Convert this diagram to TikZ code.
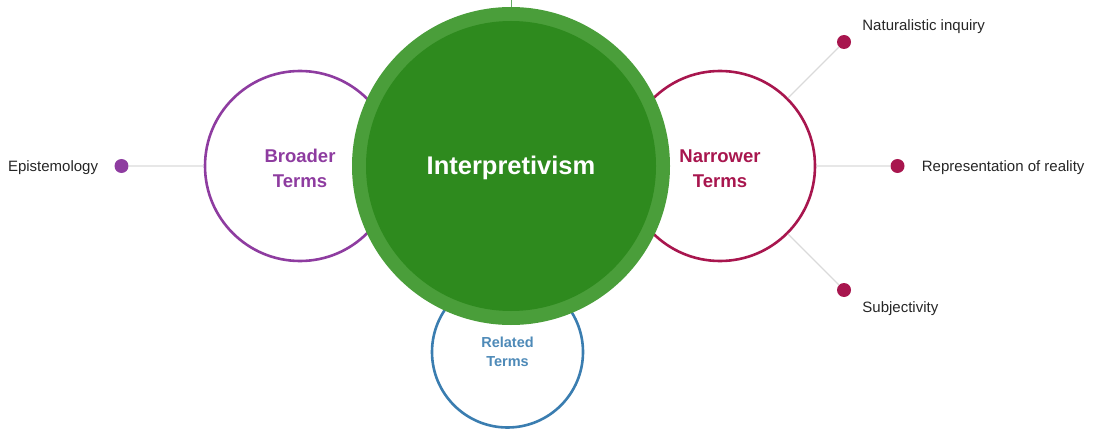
\documentclass[tikz,border=0pt]{standalone}
\usepackage{fontspec}
\setmainfont{Liberation Sans}
\usetikzlibrary{positioning}
\definecolor{ringgreen}{HTML}{4A9E3A}
\definecolor{coregreen}{HTML}{2E8A1E}
\definecolor{broadpurple}{HTML}{8E3CA0}
\definecolor{narrowred}{HTML}{A8164E}
\definecolor{relblue}{HTML}{3A7DB0}
\definecolor{linkgrey}{HTML}{DADADA}
\tikzset{
	%Define style for the term circles
	term/.style={
		circle,
		draw, line width=2.6pt,
		fill=white,
		minimum size=190pt,
		inner sep=0pt,
		align=center,
		font=\bfseries\fontsize{18.5}{25}\selectfont},
	%Define style for the small dots
	dot/.style={
		circle,
		minimum size=14pt,
		inner sep=0pt},
	%Define style for the leaf labels
	leaf/.style={
		text=black!85,
		inner sep=0pt,
		font=\fontsize{15}{18}\selectfont},
	% Define line style
	link/.style={
		draw=linkgrey,
		line width=1.3pt}
}

\begin{document}
\begin{tikzpicture}[x=1pt, y=-1pt]
	
	\pgfdeclarelayer{bg}    % declare background layer
	\pgfsetlayers{bg,main}  % set the order of the layers
	
	\useasboundingbox (0,0) rectangle (1095,433);
	
	\node[circle, fill=ringgreen, minimum size=318pt, inner sep=0pt] (central) at (511,166) {};
	\node[circle, fill=coregreen, minimum size=290pt, inner sep=0pt, text=white, font=\bfseries\fontsize{25.5}{30}\selectfont] (core) at (central) {\raisebox{-9pt}[0pt][0pt]{Interpretivism}};
	\coordinate (topend) at (511,0);
	\draw[draw=black!55!green!60, line width=1pt] (central) -- (topend);
	
	\begin{pgfonlayer}{bg}    % term circles go behind the central one
		\node[term, draw=broadpurple, text=broadpurple] (broader) at (300,166) {\raisebox{-7pt}[0pt][0pt]{\parbox{90pt}{\centering Broader\\Terms}}};
		\node[term, draw=narrowred, text=narrowred] (narrower) at (720,166) {\raisebox{-7pt}[0pt][0pt]{\parbox{90pt}{\centering Narrower\\Terms}}};
		\node[term, draw=relblue, text=relblue!90!white, minimum size=151pt, font=\bfseries\fontsize{14.5}{19}\selectfont] (related) at (507.5,352) {\parbox{60pt}{\centering Related\\Terms}};
	\end{pgfonlayer}
	
	% dots
	\node[dot, fill=broadpurple, left=75pt of broader] (episdot) {};
	\node[dot, fill=narrowred] (natdot) at (844,42) {};
	\node[dot, fill=narrowred, right=74pt of narrower] (repdot) {};
	\node[dot, fill=narrowred] (subjdot) at (844,290) {};
	
	% labels
	\node[leaf, left=16pt of episdot, yshift=-2pt] (epis) {Epistemology};
	\node[leaf, right=11pt of natdot, yshift=15pt] (nat) {Naturalistic inquiry};
	\node[leaf, right=17pt of repdot, yshift=-2pt] (rep) {Representation of reality};
	\node[leaf, right=11pt of subjdot, yshift=-19pt] (subj) {Subjectivity};
	
	\path[link]
	(episdot) -- (broader)
	(narrower) -- (natdot)
	(narrower) -- (repdot)
	(narrower) -- (subjdot);
	
\end{tikzpicture}
\end{document}
